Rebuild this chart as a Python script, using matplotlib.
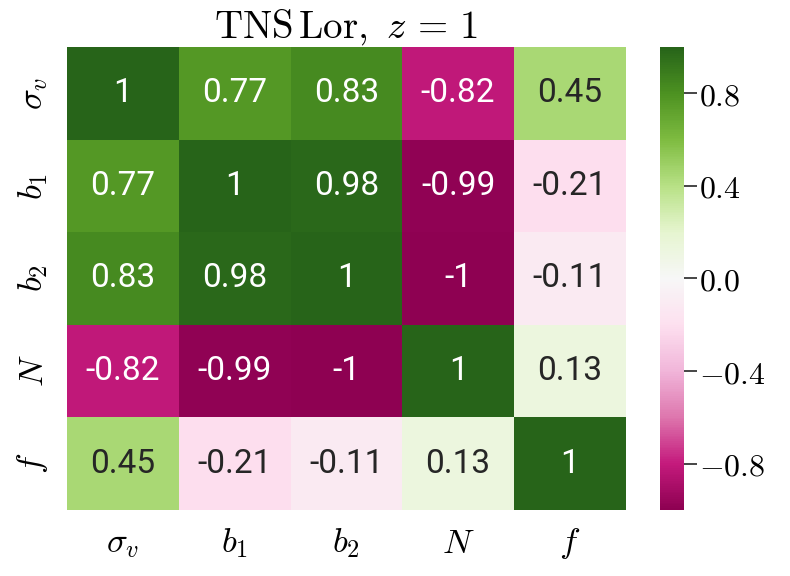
import numpy as np
import matplotlib
matplotlib.use('Agg')
import matplotlib.pyplot as plt
import seaborn as sns

# correlation matrix
params = [r'$\sigma_v$', r'$b_1$', r'$b_2$', r'$N$', r'$f$']
row_sv = [1, 0.77, 0.83, -0.82, 0.45]
row_b1 = [0.77, 1, 0.98, -0.99, -0.21]
row_b2 = [0.83, 0.98, 1, -1, -0.11]
row_N = [-0.82, -0.99, -1, 1, 0.13]
row_f = [0.45, -0.21, -0.11, 0.13, 1]
cbar_ticks = [-0.8, -0.4, 0.0, 0.4, 0.8]

corr = np.array([row_sv, row_b1, row_b2, row_N, row_f])

plt.rcParams['mathtext.fontset'] = 'cm'

fig = plt.figure(figsize=(7.9, 5.76), dpi=100)
ax = fig.add_axes([0.085, 0.115, 0.707, 0.803])
cax = fig.add_axes([0.835, 0.115, 0.031, 0.803])

sns.heatmap(corr, ax=ax, cbar_ax=cax, cmap='PiYG', vmin=-1, vmax=1,
            annot=True, fmt='.2g',
            annot_kws={'fontsize': 24, 'family': 'Roboto'},
            xticklabels=params, yticklabels=params)

ax.set_title(r'$\mathrm{TNS\,Lor},\ z\,=\,1$', fontsize=28, pad=6)
ax.tick_params(axis='both', length=0, labelsize=25, pad=12)
ax.set_yticklabels(params, rotation=90, va='center')
ax.set_xticklabels(params, rotation=0)

cax.set_yticks(cbar_ticks)
cax.set_yticklabels([r'$%.1f$' % t if t >= 0 else r'$-%.1f$' % abs(t) for t in cbar_ticks])
cax.tick_params(labelsize=23, length=9, width=1.2, color='#262626', pad=2)

fig.savefig('out.png', dpi=100)
